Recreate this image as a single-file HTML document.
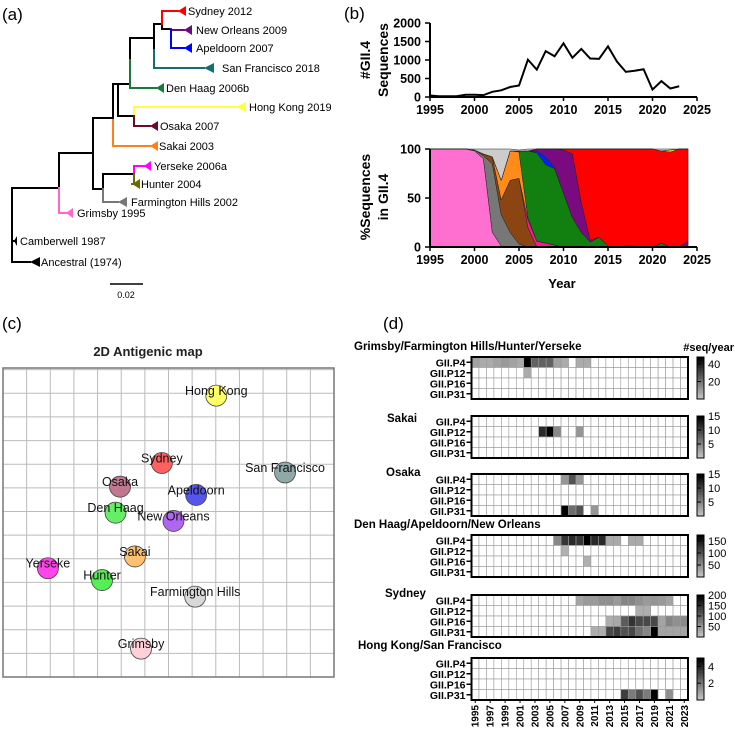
<!DOCTYPE html>
<html><head><meta charset="utf-8">
<style>
body{margin:0;background:#fff;width:735px;height:732px;overflow:hidden;font-family:"Liberation Sans",Arial,sans-serif}
svg{position:absolute;left:0;top:0}
</style></head>
<body>
<svg id="fig" width="735" height="732" viewBox="0 0 735 732" xmlns="http://www.w3.org/2000/svg" font-family="Liberation Sans, Arial, sans-serif">
<text x="2" y="20" font-size="17">(a)</text>
<text x="344" y="19" font-size="17">(b)</text>
<text x="2" y="329" font-size="17">(c)</text>
<text x="383" y="329" font-size="17">(d)</text>

<g id="tree" stroke-width="2" fill="none" stroke-linecap="square"></g>
<g>
<line x1="110" y1="284" x2="143" y2="284" stroke="#000" stroke-width="1.5"/>
<text x="126" y="298" font-size="9" text-anchor="middle">0.02</text>
</g>

<g id="panelB"></g>
<g id="panelC"></g>
<g id="panelD"></g>
</svg>
<script>
const NS="http://www.w3.org/2000/svg";
function mk(parent,tag,attrs,text){const e=document.createElementNS(NS,tag);for(const k in attrs)e.setAttribute(k,attrs[k]);if(text!==undefined)e.textContent=text;parent.appendChild(e);return e;}

/* ---------- (a) tree ---------- */
const tree=document.getElementById('tree');
const segs=[
 [[[12,188],[12,262],[30,262]],'#000'],
 [[[12,241],[16,241]],'#000'],
 [[[12,188],[59,188],[59,153],[93,153]],'#000'],
 [[[59,188],[59,213],[66,213]],'#ff66cc'],
 [[[93,153],[93,189],[103,189],[103,174],[134,174]],'#000'],
 [[[103,189],[103,202],[118,202]],'#777'],
 [[[134,174],[134,166],[144,166]],'#ff00ff'],
 [[[134,174],[134,184],[132,184]],'#6b6b00'],
 [[[93,153],[93,118],[113,118]],'#000'],
 [[[113,118],[113,146],[150,146]],'#ff7f1a'],
 [[[113,118],[113,84],[118,84],[118,116],[134,116]],'#000'],
 [[[134,116],[134,107],[236,107]],'#ffff44'],
 [[[134,116],[134,126],[150,126]],'#6b0a2a'],
 [[[118,84],[130,84],[130,58]],'#000'],
 [[[130,58],[130,88],[156,88]],'#1a7a3a'],
 [[[130,58],[130,38],[154,38],[154,50]],'#000'],
 [[[154,50],[154,68],[204,68]],'#147070'],
 [[[154,38],[154,24],[162,24]],'#000'],
 [[[162,24],[162,29],[171,29]],'#000'],
 [[[162,24],[162,11],[178,11]],'#ff0000'],
 [[[171,29],[171,30],[184,30]],'#6a0d7a'],
 [[[171,30],[171,48],[184,48]],'#0000ff']
];
segs.forEach((s,i)=>{
 const p=mk(tree,'polyline',{points:s[0].map(q=>q.join(',')).join(' '),stroke:s[1]});
 
 
});
const tips=[
 ['Sydney 2012',178,11,8,'#ff0000',188],
 ['New Orleans 2009',184,30,8,'#6a0d7a',196],
 ['Apeldoorn 2007',184,48,8,'#0000ff',196],
 ['San Francisco 2018',204,68,10,'#147070',222],
 ['Den Haag 2006b',156,88,8,'#1a7a3a',166],
 ['Hong Kong 2019',236,107,10,'#ffff44',249],
 ['Osaka 2007',150,126,8,'#6b0a2a',160],
 ['Sakai 2003',150,146,8,'#ff7f1a',159],
 ['Yerseke 2006a',144,166,7,'#ff00ff',154],
 ['Hunter 2004',132,184,8,'#6b6b00',141],
 ['Farmington Hills 2002',118,202,9,'#777',131],
 ['Grimsby 1995',66,213,7,'#ff66cc',77],
 ['Camberwell 1987',14,241,3,'#000',20],
 ['Ancestral (1974)',30,262,10,'#000',41]
];
tips.forEach(t=>{
 const [lab,x,y,w,c,tx]=t;
 const tri=mk(tree,'polygon',{points:`${x},${y} ${x+w},${y-5} ${x+w},${y+5}`,fill:c,stroke:'none'});
 
 
 const tt=mk(tree,'text',{x:tx,y:y+4,'font-size':11,fill:'#000',stroke:'none'},lab);
 
 
});

/* ---------- (b) data ---------- */
const seqYears=[1995,1996,1997,1998,1999,2000,2001,2002,2003,2004,2005,2006,2007,2008,2009,2010,2011,2012,2013,2014,2015,2016,2017,2018,2019,2020,2021,2022,2023];
const seqCounts=[40,20,20,20,60,60,50,140,180,270,310,1010,740,1240,1100,1450,1060,1300,1040,1030,1370,960,680,710,750,200,430,230,290];
const pctYears=[1995,1996,1997,1998,1999,2000,2001,2002,2003,2004,2005,2006,2007,2008,2009,2010,2011,2012,2013,2014,2015,2016,2017,2018,2019,2020,2021,2022,2023,2024];
const pctGrimsby =[100,100,100,100,100,98,90,15,1,0,0,0,0,0,0,0,0,0,0,0,0,0,0,0,0,0,0,0,0,0];
const pctFarmington=[0,0,0,0,0,1,3,70,32,15,3,0,0,0,0,0,0,0,0,0,0,0,0,0,0,0,0,0,0,0];
const pctHunter  =[0,0,0,0,0,0,2,7,15,53,67,20,0,0,0,0,0,0,0,0,0,0,0,0,0,0,0,0,0,0];
const pctYerseke =[0,0,0,0,0,0,0,0,0,0,0,8,6,4,2,0,0,0,0,0,0,0,0,0,0,0,0,0,0,0];
const pctSakai   =[0,0,0,0,0,0,0,0,20,30,27,2,0,0,0,0,0,0,0,0,0,0,0,0,0,0,0,0,0,0];
const pctDenHaag =[0,0,0,0,0,0,0,0,0,0,1,68,90,80,78,55,30,15,5,10,1,0,1,1,0,0,4,0,0,0];
const pctApeldoorn=[0,0,0,0,0,0,0,0,0,0,0,0,2,8,1,0,0,0,0,0,0,0,0,0,0,0,0,0,0,0];
const pctNewOrleans=[0,0,0,0,0,0,0,0,0,0,0,0,2,8,19,44,65,30,2,0,0,0,0,0,0,0,0,0,0,6];
const pctSydney  =[0,0,0,0,0,0,0,0,0,0,0,0,0,0,0,1,5,55,93,90,99,100,99,99,100,100,94,97,100,94];
const pctHongKong=[0,0,0,0,0,0,0,0,0,0,0,0,0,0,0,0,0,0,0,0,0,0,0,0,0,0,0,2,0,0];
const pctOther   =[0,0,0,0,0,1,5,8,32,2,1,2,0,0,0,0,0,0,0,0,0,0,0,0,0,0,2,1,0,0];
const stackSeries=[pctGrimsby,pctFarmington,pctHunter,pctYerseke,pctSakai,pctDenHaag,pctApeldoorn,pctNewOrleans,pctSydney,pctHongKong,pctOther];
const stackColors=['#ff6fd0','#777777','#8b4513','#ff1493','#ff8c1a','#118011','#0022ff','#7a0a80','#ff0000','#ffff33','#cccccc'];
const stackNames=['grimsby','farmington-hills','hunter','yerseke','sakai','den-haag','apeldoorn','new-orleans','sydney','hong-kong','other'];
const xTicks=[1995,2000,2005,2010,2015,2020,2025];
const yTicksTop=[0,500,1000,1500,2000];
const yTicksBot=[0,50,100];

const B=document.getElementById('panelB');
const bx=v=>430+(v-1995)*(697-430)/30;
const byTop=v=>97-v*(97-23)/2000;
const byBot=v=>247-v*(247-149)/100;
function axes(yfn,yTicks,y0,name){
 const g=mk(B,'g',{});
 
 
 mk(g,'line',{x1:430,y1:y0,x2:697,y2:y0,stroke:'#000','stroke-width':2});
 mk(g,'line',{x1:430,y1:y0,x2:430,y2:yfn(yTicks[yTicks.length-1]),stroke:'#000','stroke-width':2});
 xTicks.forEach(t=>{mk(g,'line',{x1:bx(t),y1:y0,x2:bx(t),y2:y0+4,stroke:'#000','stroke-width':1.5});
  const tx=mk(g,'text',{x:bx(t),y:y0+17,'font-size':12.5,'font-weight':'bold','text-anchor':'middle'},t);
  
  });
 yTicks.forEach(t=>{mk(g,'line',{x1:425,y1:yfn(t),x2:430,y2:yfn(t),stroke:'#000','stroke-width':1.5});
  const tx=mk(g,'text',{x:421,y:yfn(t)+4.5,'font-size':12.5,'font-weight':'bold','text-anchor':'end'},t);
  
  });
}
let cum=pctYears.map(()=>0);
stackSeries.forEach((s,k)=>{
 const lower=cum.slice();
 const upper=cum.map((c,i)=>c+s[i]);
 cum=upper;
 const pts=pctYears.map((y,i)=>bx(y)+','+byBot(Math.min(upper[i],100))).concat(pctYears.map((y,i)=>bx(y)+','+byBot(Math.min(lower[i],100))).reverse());
 const p=mk(B,'polygon',{points:pts.join(' '),fill:stackColors[k],stroke:'#222','stroke-width':0.5});
 
 
});
axes(byTop,yTicksTop,97,'top-chart-axes');
axes(byBot,yTicksBot,247,'bottom-chart-axes');
const ln=mk(B,'polyline',{points:seqYears.map((y,i)=>bx(y)+','+byTop(seqCounts[i])).join(' '),fill:'none',stroke:'#000','stroke-width':2});


const yt1=mk(B,'text',{transform:'translate(370,60) rotate(-90)','font-size':14,'font-weight':'bold','text-anchor':'middle'});


mk(yt1,'tspan',{x:0,y:0},'#GII.4');
mk(yt1,'tspan',{x:0,y:18},'Sequences');
const yt2=mk(B,'text',{transform:'translate(370,197) rotate(-90)','font-size':14,'font-weight':'bold','text-anchor':'middle'});


mk(yt2,'tspan',{x:0,y:0},'%Sequences');
mk(yt2,'tspan',{x:0,y:18},'in GII.4');
const xt=mk(B,'text',{x:562,y:288,'font-size':13,'font-weight':'bold','text-anchor':'middle'},'Year');



/* ---------- (c) antigenic map ---------- */
const agNames=['Hong Kong','Sydney','San Francisco','Osaka','Apeldoorn','Den Haag','New Orleans','Sakai','Yerseke','Hunter','Farmington Hills','Grimsby'];
const agX=[9.02,6.72,11.93,4.95,8.17,4.76,7.21,5.58,1.90,4.19,8.13,5.84];
const agY=[11.9,9.05,8.65,8.05,7.7,6.95,6.6,5.1,4.6,4.1,3.4,1.2];
const agColors=['#ffff66','#ff6060','#8fa8a8','#c07890','#5555ee','#66ee66','#b066ee','#ffc070','#ff44ee','#55ee55','#d8d8d8','#ffd0d8'];
const C=document.getElementById('panelC');
const cx0=3,cy0=677,cell=(334-3)/14;
const cxf=v=>cx0+v*cell, cyf=v=>cy0-v*cell;
const ct=mk(C,'text',{x:148,y:356,'font-size':13,'font-weight':'bold','text-anchor':'middle',fill:'#222'},'2D Antigenic map');


for(let i=0;i<=14;i++){mk(C,'line',{x1:cxf(i),y1:368,x2:cxf(i),y2:677,stroke:'#bbb','stroke-width':1});}
for(let j=0;j*cell<=309.5;j++){mk(C,'line',{x1:3,y1:cyf(j),x2:334,y2:cyf(j),stroke:'#bbb','stroke-width':1});}
mk(C,'rect',{x:3,y:368,width:331,height:309,fill:'none',stroke:'#777','stroke-width':1.5});
agNames.forEach((n,i)=>{
 const c=mk(C,'circle',{cx:cxf(agX[i]),cy:cyf(agY[i]),r:10.5,fill:agColors[i],stroke:'#444','stroke-width':0.8});
 
 
});
agNames.forEach((n,i)=>{
 const t=mk(C,'text',{x:cxf(agX[i]),y:cyf(agY[i])-0.5,'font-size':12.5,'text-anchor':'middle',fill:'#111'},n);
 
 
});

/* ---------- (d) heatmaps ---------- */
const hmYears=[];for(let y=1995;y<=2023;y++)hmYears.push(y);
const hmRows=['GII.P4','GII.P12','GII.P16','GII.P31'];
const hmTitles=['Grimsby/Farmington Hills/Hunter/Yerseke','Sakai','Osaka','Den Haag/Apeldoorn/New Orleans','Sydney','Hong Kong/San Francisco'];
const grimsbyP4 =[10,8,8,10,12,10,8,48,25,25,25,10,8,0,8,8,0,0,0,0,0,0,0,0,0,0,0,0,0];
const grimsbyP12=[0,0,0,0,0,0,0,8,0,0,0,0,0,0,0,0,0,0,0,0,0,0,0,0,0,0,0,0,0];
const sakaiP12  =[0,0,0,0,0,0,0,0,0,12,15,5,0,0,4,0,0,0,0,0,0,0,0,0,0,0,0,0,0];
const osakaP4   =[0,0,0,0,0,0,0,0,0,0,0,0,4,9,4,0,0,0,0,0,0,0,0,0,0,0,0,0,0];
const osakaP31  =[0,0,0,0,0,0,0,0,0,0,0,0,15,7,9,0,4,0,0,0,0,0,0,0,0,0,0,0,0];
const denhaagP4 =[0,0,0,0,0,0,0,0,0,0,0,60,130,140,130,175,140,140,30,30,0,30,30,0,0,0,0,0,0];
const denhaagP12=[0,0,0,0,0,0,0,0,0,0,0,0,25,0,0,0,0,0,0,0,0,0,0,0,0,0,0,0,0];
const denhaagP16=[0,0,0,0,0,0,0,0,0,0,0,0,0,0,0,25,0,0,0,0,0,0,0,0,0,0,0,0,0];
const sydneyP4  =[0,0,0,0,0,0,0,0,0,0,0,0,0,0,40,50,50,60,60,50,70,70,60,50,55,50,40,0,0];
const sydneyP12 =[0,0,0,0,0,0,0,0,0,0,0,0,0,0,0,0,0,0,0,0,0,0,30,30,0,0,0,0,0];
const sydneyP16 =[0,0,0,0,0,0,0,0,0,0,0,0,0,0,0,0,0,0,30,35,110,150,130,130,130,40,70,60,65];
const sydneyP31 =[0,0,0,0,0,0,0,0,0,0,0,0,0,0,0,0,30,30,130,140,120,130,90,70,200,40,40,40,40];
const hkP31     =[0,0,0,0,0,0,0,0,0,0,0,0,0,0,0,0,0,0,0,0,3.5,2,3,2,5,0,1.5,0,0];
const Z=new Array(29).fill(0);
const hmData=[[grimsbyP4,grimsbyP12,Z,Z],[Z,sakaiP12,Z,Z],[osakaP4,Z,Z,osakaP31],[denhaagP4,denhaagP12,denhaagP16,Z],[sydneyP4,sydneyP12,sydneyP16,sydneyP31],[Z,Z,Z,hkP31]];
const hmMax=[48,15,15,175,200,5];
const cbTicks=[[20,40],[5,10,15],[5,10,15],[50,100,150],[50,100,150,200],[2,4]];
const hmTop=[357,416,474,535,595,658];
const titleY=[350,422,476,528,597,649];
const titleX=[354,387,386,354,385,358];
const D=document.getElementById('panelD');
const hx0=471.5,hx1=688,cw=(hx1-hx0)/29,rh=10.5;
function shade(v,m){if(!v)return '#fff';const t=Math.min(v/m,1);const g=Math.round(205-205*t);return `rgb(${g},${g},${g})`;}
const st=mk(D,'text',{x:734,y:351,'font-size':11,'font-weight':'bold','text-anchor':'end'},'#seq/year');


hmData.forEach((panel,p)=>{
 const top=hmTop[p];
 const g=mk(D,'g',{});
 
 
 const tt=mk(g,'text',{x:titleX[p],y:titleY[p],'font-size':11.5,'font-weight':'bold'},hmTitles[p]);
 
 
 panel.forEach((row,r)=>{
  row.forEach((v,c)=>{
   const rc=mk(g,'rect',{x:hx0+c*cw,y:top+r*rh,width:cw,height:rh,fill:shade(v,hmMax[p]),stroke:'#999','stroke-width':0.6});
   
   
  });
  mk(g,'line',{x1:hx0-5,y1:top+r*rh+rh/2,x2:hx0,y2:top+r*rh+rh/2,stroke:'#000','stroke-width':1.5});
  const rl=mk(g,'text',{x:hx0-6,y:top+r*rh+rh/2+4,'font-size':10.5,'font-weight':'bold','text-anchor':'end'},hmRows[r]);
  
  
 });
 mk(g,'rect',{x:hx0,y:top,width:hx1-hx0,height:4*rh,fill:'none',stroke:'#000','stroke-width':2});
 const cbh=4*rh, steps=20;
 for(let s=0;s<steps;s++){
  const v=hmMax[p]*(s+1)/steps;
  mk(g,'rect',{x:697,y:top+cbh-(s+1)*cbh/steps,width:7,height:cbh/steps+0.3,fill:shade(v,hmMax[p]),stroke:'none'});
 }
 const cbr=mk(g,'rect',{x:697,y:top,width:7,height:cbh,fill:'none',stroke:'#000','stroke-width':1});
 
 
 cbTicks[p].forEach(t=>{
  const yy=top+cbh-cbh*t/hmMax[p];
  mk(g,'line',{x1:697,y1:yy,x2:701,y2:yy,stroke:'#000','stroke-width':1});
  const tl=mk(g,'text',{x:708,y:yy+4,'font-size':11},t);
  
  
 });
});
hmYears.forEach((y,i)=>{
 if(i%2)return;
 const x=hx0+(i+0.5)*cw;
 mk(D,'line',{x1:x,y1:700,x2:x,y2:703,stroke:'#000','stroke-width':1});
 const t=mk(D,'text',{transform:`translate(${x+3.5},${705}) rotate(-90)`,'font-size':10,'font-weight':'bold','text-anchor':'end'},y);
 
 
});
</script>
</body></html>
